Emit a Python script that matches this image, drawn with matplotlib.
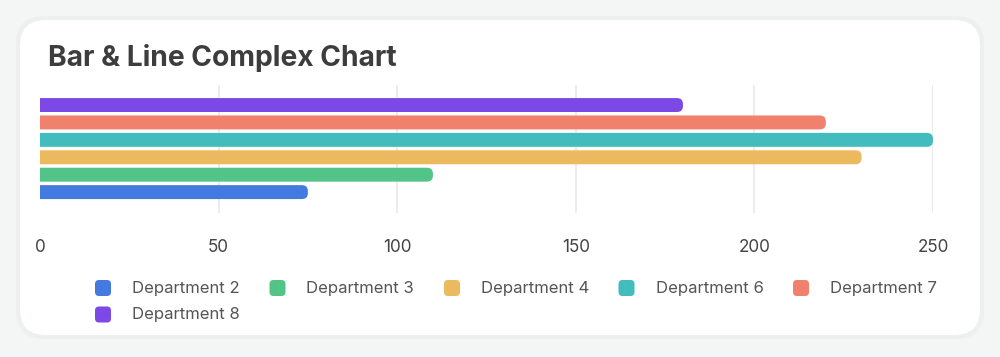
import matplotlib.pyplot as plt
from matplotlib.patches import FancyBboxPatch

plt.rcParams['font.family'] = ['Inter', 'DejaVu Sans']

# data
departments = ['Department 2', 'Department 3', 'Department 4',
               'Department 6', 'Department 7', 'Department 8']
values = [75, 110, 230, 250, 220, 180]
colors = ['#427ae0', '#52c487', '#edb95e', '#42bcbc', '#f0816c', '#7c49e6']
xticks = [0, 50, 100, 150, 200, 250]

W, H = 1000, 357
fig = plt.figure(figsize=(W / 100, H / 100), dpi=100)
fig.patch.set_facecolor('#f4f5f5')

# white card behind everything
def px_box(x0, y0, x1, y1, r, **kw):
    # pixel coords measured from top-left
    return FancyBboxPatch((x0 / W, 1 - y1 / H), (x1 - x0) / W, (y1 - y0) / H,
                          boxstyle=f"round,pad=0,rounding_size={r / W}",
                          mutation_aspect=W / H, transform=fig.transFigure, **kw)

fig.patches.append(px_box(16, 16, 984, 339, 28, facecolor='#eeefef', edgecolor='none', zorder=0))
fig.patches.append(px_box(20, 20, 980, 335, 26, facecolor='white', edgecolor='none', zorder=1))

fig.text(48 / W, 1 - 58 / H, 'Bar & Line Complex Chart', fontsize=20.3, fontweight='bold',
         color='#3d3d3d', va='center', ha='left')

ax = fig.add_axes([40 / W, 1 - 213 / H, 893 / W, 128 / H])
ax.set_facecolor('none')
ax.set_zorder(2)

ypos = list(range(len(values)))
bars = ax.barh(ypos, values, height=0.8, color=colors)

# swap plain rectangles for bars with rounded right ends
px_x = 893 / 250
px_y = 128 / 7.35
r = 6
for rect in list(bars):
    x, y = rect.get_x(), rect.get_y()
    w, h = rect.get_width(), rect.get_height()
    rb = FancyBboxPatch((x - 5, y), w + 5, h,
                        boxstyle=f"round,pad=0,rounding_size={r / px_x}",
                        mutation_aspect=px_x / px_y,
                        facecolor=rect.get_facecolor(), edgecolor='none', zorder=3)
    ax.add_patch(rb)
    rect.remove()

ax.set_xlim(0, 250)
ax.set_ylim(-1.2, 6.15)
ax.set_xticks(xticks)
ax.set_yticks([])
ax.tick_params(axis='x', length=0, pad=19, labelsize=12.3, labelcolor='#444444')
ax.grid(axis='x', color='#ececec', linewidth=1.5, zorder=0)
ax.set_axisbelow(True)
ax.xaxis.get_gridlines()[0].set_visible(False)
for s in ax.spines.values():
    s.set_visible(False)

# legend, laid out like the original (5 per row)
for i, (name, c) in enumerate(zip(departments, colors)):
    row, col = divmod(i, 5)
    cx = 103 + col * 174.5
    cy = 288 + row * 26.5
    fig.patches.append(px_box(cx - 8, cy - 8, cx + 8, cy + 8, 4, facecolor=c,
                              edgecolor='none', zorder=3))
    fig.text((cx + 29) / W, 1 - cy / H, name, fontsize=12, color='#555555',
             va='center', ha='left')

fig.savefig('out.png', dpi=100, facecolor=fig.get_facecolor())
